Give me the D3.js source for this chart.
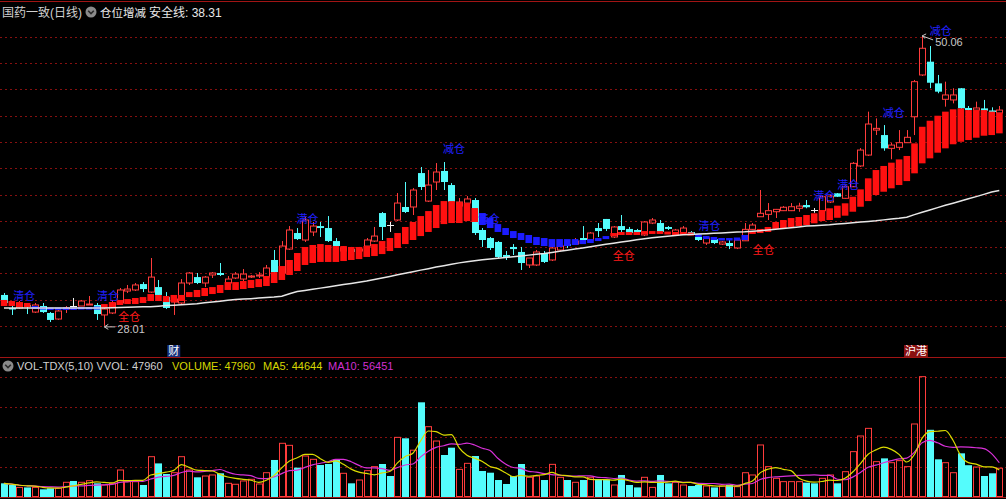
<!DOCTYPE html>
<html><head><meta charset="utf-8">
<script src="https://cdn.jsdelivr.net/npm/d3@7"></script>
<style>
html,body{margin:0;padding:0;background:#000;}
svg{display:block;}
text{font-family:"Liberation Sans","Noto Sans CJK SC",sans-serif;}
</style></head>
<body>
<svg id="c" width="1006" height="499"></svg>
<script>
// ---------- data ----------
const open = [30.36,29.37,29.37,29.60,29.06,29.52,28.99,28.53,29.29,29.52,
29.52,29.60,29.60,28.84,28.99,29.75,30.66,30.74,31.19,30.58,
30.96,30.20,29.82,29.75,31.27,31.72,31.27,31.88,32.03,31.27,
31.65,31.57,31.72,31.80,31.72,33.02,32.03,33.85,35.07,34.54,
35.15,35.60,35.45,34.46,33.70,33.85,33.70,34.08,34.46,36.59,
35.68,36.06,37.05,37.05,39.63,37.50,38.95,39.79,38.72,37.12,
37.35,37.58,35.30,34.69,34.39,33.40,34.01,33.63,32.64,32.64,
33.55,33.02,33.78,34.23,34.23,34.69,34.54,35.45,36.14,34.77,
35.60,35.38,35.30,34.92,35.83,35.83,35.53,34.92,35.07,35.15,
34.77,34.31,34.61,34.23,34.31,33.93,34.48,35.35,36.31,36.49,
36.69,36.77,36.77,36.95,37.20,36.82,36.77,37.43,38.09,37.71,
38.59,40.17,41.00,42.90,42.52,41.51,41.59,41.94,43.91,47.09,
48.10,46.45,45.24,45.19,46.08,44.58,44.42,44.55,44.39,44.20];
const close = [29.75,29.29,29.75,29.44,29.60,29.06,28.46,29.14,29.37,29.52,
29.90,29.67,28.91,29.29,29.75,30.74,30.81,31.12,30.81,31.72,
30.36,29.37,30.05,31.27,32.03,31.27,31.72,32.03,31.88,31.57,
31.95,31.95,31.80,31.88,32.41,32.10,34.08,35.30,34.61,36.06,
35.60,35.45,34.46,34.08,33.93,33.63,33.85,34.54,34.84,35.53,
35.68,37.35,36.67,38.34,38.57,38.72,39.71,38.95,37.43,37.43,
37.66,35.07,34.54,33.93,33.25,33.25,33.85,32.79,33.17,33.63,
32.87,33.93,34.08,34.08,34.46,34.54,35.07,35.22,35.38,35.53,
35.30,35.07,35.15,35.91,36.06,35.15,35.38,35.30,35.45,35.00,
34.54,34.69,34.31,34.39,34.08,34.54,35.35,35.68,36.57,36.77,
36.87,37.03,37.07,37.12,37.03,36.82,37.83,37.88,37.83,38.59,
40.37,41.38,43.36,43.03,41.51,41.76,41.94,42.35,46.58,49.12,
46.50,45.82,45.57,45.57,44.55,44.42,44.58,44.37,44.30,44.42];
const high = [30.51,29.60,29.90,29.75,29.75,29.75,29.06,29.22,29.52,30.13,
29.98,30.28,29.75,29.37,29.98,30.89,31.12,31.27,31.34,33.17,
31.50,30.58,30.20,31.57,32.10,32.03,31.80,32.10,32.79,31.80,
32.10,32.33,31.88,32.10,32.64,33.78,34.46,35.60,35.45,36.29,
35.91,35.91,36.36,34.69,34.08,34.01,34.01,34.69,35.53,36.67,
35.91,38.11,38.95,38.49,40.09,39.86,40.39,40.47,38.87,37.73,
37.88,37.73,35.45,34.77,34.46,33.70,34.23,34.01,33.17,33.78,
33.70,34.01,34.31,34.54,34.69,35.60,35.15,35.83,36.14,35.60,
36.44,35.53,35.38,35.98,36.21,36.06,35.60,35.38,35.60,35.22,
34.84,34.84,34.69,34.46,34.54,34.61,35.83,35.83,38.34,37.35,
36.90,37.12,37.35,37.37,37.58,36.97,37.88,38.04,38.11,38.72,
40.47,41.53,44.30,43.79,43.28,41.92,42.90,42.90,46.71,50.06,
49.29,47.09,46.58,46.08,46.10,44.73,45.06,45.19,44.63,44.73];
const low = [29.52,28.84,29.29,28.91,28.99,28.99,28.30,28.46,28.99,29.44,
29.52,29.60,28.46,28.01,28.91,29.60,30.51,30.66,30.58,30.51,
30.28,29.29,28.84,29.60,31.12,31.19,30.96,31.65,31.80,31.12,
31.57,31.42,31.65,31.65,31.65,32.03,31.95,33.78,34.54,34.39,
34.84,34.77,34.39,33.93,33.63,33.47,33.55,34.01,34.39,34.54,
35.15,35.98,36.59,36.44,38.34,37.43,38.34,38.34,37.35,36.97,
37.20,34.92,34.01,33.78,33.17,33.02,33.40,32.26,32.41,32.56,
32.79,32.94,33.70,33.93,34.16,34.31,34.46,34.77,35.22,34.69,
35.07,35.00,34.92,34.84,35.75,35.07,35.30,34.84,35.00,34.92,
34.46,34.16,34.23,34.16,33.85,33.85,34.46,35.30,36.29,36.06,
36.21,36.74,36.74,36.69,36.95,36.61,36.74,37.35,37.81,37.66,
38.57,40.09,40.93,42.52,41.33,40.68,41.38,41.92,42.52,47.01,
46.08,45.70,44.68,44.93,44.50,44.35,44.39,44.35,44.27,44.12];
const volume = [22800,20000,16000,16000,16000,12800,14500,14500,24500,26700,
24500,27200,22800,20000,22800,45000,25500,25500,20000,67200,
56000,38300,40500,67200,45000,32800,35000,36700,39500,22800,
21200,26700,29500,21700,40500,61700,89500,86100,48900,68300,
62800,53300,55000,61700,39500,22800,28300,43900,50600,55000,
35000,99400,97800,78000,157800,117200,93300,70000,82200,46100,
56100,68300,43300,40500,28300,21700,35000,55000,32800,35000,
28300,54400,32800,28300,24500,28300,32800,30000,29000,20000,
36700,20000,16000,32800,16000,36700,22800,24500,20000,18300,
20000,18300,16000,18300,20000,17200,40500,36700,86700,50600,
31100,25600,25600,25600,23900,22800,31100,36700,22800,42200,
75600,101700,114400,58900,64400,57200,60600,50600,121700,200600,
112000,62800,57200,40500,72800,53000,50000,35000,39500,47960];
// 仓位增减 band: upper and lower edge
const bandHi = [29.98,29.90,29.82,29.75,29.52,29.44,29.40,29.40,29.40,29.40,
29.44,29.44,29.48,29.67,29.82,29.98,30.05,30.13,30.20,30.43,
30.36,30.28,30.36,30.36,30.58,30.74,30.89,30.96,31.12,31.34,
31.34,31.42,31.50,31.57,31.80,32.10,32.56,33.02,33.55,34.01,
34.16,34.23,34.16,34.08,34.08,34.01,34.01,34.08,34.23,34.46,
34.69,35.07,35.53,35.91,36.36,36.74,37.20,37.50,37.50,37.43,
37.35,36.97,36.59,36.21,35.75,35.45,35.22,35.07,34.92,34.77,
34.69,34.61,34.61,34.61,34.61,34.54,34.61,34.69,34.84,35.07,
35.15,35.15,35.15,35.22,35.22,35.22,35.18,35.15,35.15,35.11,
35.00,34.84,34.77,34.69,34.69,34.73,34.92,35.22,35.38,35.53,
35.91,36.06,36.21,36.29,36.44,36.57,36.82,36.95,37.15,37.33,
37.83,38.39,39.23,39.86,40.17,40.42,40.67,40.93,41.89,43.15,
43.61,43.99,44.30,44.48,44.55,44.42,44.42,44.42,44.30,44.22];
const bandLo = [29.52,29.52,29.44,29.44,29.29,29.25,29.22,29.22,29.22,29.22,
29.25,29.25,29.25,29.37,29.44,29.60,29.67,29.67,29.75,29.90,
29.90,29.82,29.82,29.90,30.20,30.20,30.28,30.43,30.51,30.74,
30.74,30.81,30.89,30.96,31.04,31.27,31.50,31.88,32.18,32.64,
32.79,32.87,32.87,32.87,32.94,33.02,33.09,33.25,33.32,33.47,
33.70,33.93,34.23,34.54,34.84,35.15,35.45,35.75,35.83,35.83,
35.98,35.91,35.68,35.45,35.15,34.92,34.69,34.54,34.31,34.16,
34.08,34.01,34.01,34.08,34.16,34.23,34.31,34.46,34.61,34.84,
34.92,34.92,34.92,34.96,35.00,35.00,34.96,34.92,34.92,34.88,
34.77,34.61,34.54,34.50,34.50,34.50,34.54,35.00,35.07,35.15,
35.38,35.45,35.53,35.60,35.68,35.81,35.98,36.06,36.23,36.39,
36.69,37.07,37.50,37.96,38.21,38.47,38.72,39.02,39.61,40.37,
40.75,41.18,41.51,41.82,42.01,42.14,42.32,42.47,42.52,42.65];
// band colour runs: [count, 'r' rising / 'b' falling]
const bandRuns = [[4,'r'],[9,'b'],[49,'r'],[17,'b'],[11,'r'],[7,'b'],[33,'r']];
// 安全线
const safety = [29.37,29.37,29.37,29.37,29.37,29.37,29.37,29.37,29.37,29.37,
29.37,29.37,29.37,29.37,29.39,29.41,29.42,29.44,29.46,29.47,
29.51,29.55,29.58,29.62,29.66,29.70,29.76,29.83,29.89,29.96,
30.01,30.05,30.08,30.12,30.16,30.20,30.27,30.45,30.62,30.70,
30.79,30.88,30.97,31.06,31.15,31.23,31.32,31.42,31.54,31.65,
31.77,31.89,32.01,32.13,32.25,32.36,32.48,32.59,32.70,32.80,
32.88,32.96,33.04,33.10,33.15,33.21,33.27,33.33,33.39,33.45,
33.51,33.59,33.68,33.76,33.85,33.94,34.03,34.12,34.21,34.30,
34.39,34.47,34.55,34.64,34.71,34.77,34.83,34.88,34.93,34.96,
34.99,35.02,35.05,35.08,35.11,35.14,35.16,35.20,35.25,35.30,
35.35,35.41,35.47,35.53,35.60,35.63,35.67,35.70,35.75,35.80,
35.85,35.90,35.95,36.00,36.07,36.13,36.19,36.27,36.47,36.65,
36.82,37.00,37.18,37.34,37.51,37.67,37.84,38.01,38.19,38.31];
// signal labels: candle index (left edge), price level, text, kind
const sigIndex = [1.2, 12.05, 14.8, 37.9, 56.9, 61.4, 78.9, 90, 97, 104.9, 108, 113.9, 120];
const sigPrice = [30.28, 30.28, 28.66, 36.14, 41.46, 36.14, 33.32, 35.60, 33.78, 37.88, 38.72, 44.20, 50.45];
const sigText  = ["清仓","清仓","全仓","满仓","减仓","清仓","全仓","清仓","全仓","满仓","满仓","减仓","减仓"];
const sigKind  = ["b","b","r","b","b","b","r","b","r","b","b","b","b"];
const priceTicks = [28,30,32,34,36,38,40,42,44,46,48,50];
const volTicks = [50000,100000,150000,200000];
const lowMark = {i:13, v:28.01};
const highMark = {i:119, v:50.06};

// ---------- drawing ----------
const N = open.length;
const W = 1006;
const svg = d3.select("#c");
svg.append("rect").attr("width",W).attr("height",499).attr("fill","#000");

const x = d3.scaleLinear().domain([0, N-1]).range([4, 999.3]);
const yP = d3.scaleLinear().domain([28, 50]).range([326, 36.7]);
const yV = d3.scaleLinear().domain([0, 200000]).range([497, 377]);

const UP = "#ff3c3c", DOWN = "#54fcfc", GRID = "#861010";
const crisp = v => Math.round(v) + 0.5;

// grids
svg.append("g").selectAll("line").data(priceTicks).join("line")
  .attr("x1",0).attr("x2",W).attr("y1",d=>crisp(yP(d))).attr("y2",d=>crisp(yP(d)))
  .attr("stroke",GRID).attr("stroke-dasharray","2,3");
svg.append("g").selectAll("line").data(volTicks).join("line")
  .attr("x1",0).attr("x2",W).attr("y1",d=>crisp(yV(d))).attr("y2",d=>crisp(yV(d)))
  .attr("stroke",GRID).attr("stroke-dasharray","2,3");
// frame lines
[1.5, 357.5, 497.5].forEach(yy=>{
  svg.append("line").attr("x1",0).attr("x2",W).attr("y1",yy).attr("y2",yy)
    .attr("stroke","#a01414").attr("stroke-width",1);
});

// candles
const data = d3.range(N).map(i=>({i,o:open[i],c:close[i],h:high[i],l:low[i],v:volume[i]}));
const gC = svg.append("g");
data.forEach(d=>{
  const cx = Math.round(x(d.i));
  const yo = yP(d.o), yc = yP(d.c), yh = yP(d.h), yl = yP(d.l);
  const top = Math.min(yo,yc), bot = Math.max(yo,yc);
  if (d.c > d.o) {
    gC.append("line").attr("x1",cx+0.5).attr("x2",cx+0.5).attr("y1",yh).attr("y2",top).attr("stroke",UP);
    gC.append("line").attr("x1",cx+0.5).attr("x2",cx+0.5).attr("y1",bot).attr("y2",yl).attr("stroke",UP);
    gC.append("rect").attr("x",cx-2.5).attr("y",top).attr("width",6).attr("height",Math.max(1,bot-top))
      .attr("fill","none").attr("stroke",UP).attr("stroke-width",1);
  } else if (d.c < d.o) {
    gC.append("line").attr("x1",cx+0.5).attr("x2",cx+0.5).attr("y1",yh).attr("y2",yl).attr("stroke",DOWN);
    gC.append("rect").attr("x",cx-3).attr("y",top).attr("width",7).attr("height",Math.max(1.5,bot-top))
      .attr("fill",DOWN);
  } else {
    gC.append("line").attr("x1",cx+0.5).attr("x2",cx+0.5).attr("y1",yh).attr("y2",yl).attr("stroke","#f0f0f0");
    gC.append("line").attr("x1",cx-3).attr("x2",cx+4).attr("y1",crisp(yo)).attr("y2",crisp(yo)).attr("stroke","#f0f0f0");
  }
});

// band (drawn above candles)
const bandColor = [];
bandRuns.forEach(([n,c])=>{ for(let k=0;k<n;k++) bandColor.push(c); });
svg.append("g").selectAll("rect").data(d3.range(N)).join("rect")
  .attr("x",i=>x(i)-3.2).attr("width",6.6)
  .attr("y",i=>yP(bandHi[i])).attr("height",i=>Math.max(2,yP(bandLo[i])-yP(bandHi[i])))
  .attr("fill",i=>bandColor[i]==='r' ? "#ff1010" : "#1c1cff");

// safety line
svg.append("path").datum(safety)
  .attr("d", d3.line().x((d,i)=>x(i)).y(d=>yP(d)))
  .attr("fill","none").attr("stroke","#e6e6e6").attr("stroke-width",1.5);

// signal labels
svg.append("g").selectAll("text").data(d3.range(sigText.length)).join("text")
  .attr("x",k=>x(sigIndex[k])).attr("y",k=>yP(sigPrice[k]))
  .attr("dominant-baseline","central")
  .attr("font-family","Noto Sans CJK SC").attr("font-size",11)
  .attr("fill",k=>sigKind[k]==='r' ? "#ff1a1a" : "#2020ff")
  .text(k=>sigText[k]);

// low / high markers
{
  const lx = x(lowMark.i), ly = yP(lowMark.v) + 1;
  svg.append("path").attr("d",`M${lx},${ly} l4,-2.5 M${lx},${ly} l4,2.5 M${lx},${ly} L${lx+11},${ly}`)
    .attr("stroke","#c8c8c8").attr("fill","none");
  svg.append("text").attr("x",lx+13).attr("y",ly+2).attr("dominant-baseline","central")
    .attr("font-size",11).attr("fill","#c8c8c8").text(lowMark.v.toFixed(2));
  const hx = x(highMark.i), hy = yP(highMark.v);
  svg.append("path").attr("d",`M${hx},${hy} l4,-2 M${hx},${hy} l3,2.5 M${hx},${hy} L${hx+11},${hy+4}`)
    .attr("stroke","#c8c8c8").attr("fill","none");
  svg.append("text").attr("x",hx+13).attr("y",hy+6.5).attr("dominant-baseline","central")
    .attr("font-size",11).attr("fill","#c8c8c8").text(highMark.v.toFixed(2));
}

// event markers at bottom of price panel
function marker(i, txt, bg){
  const cx = x(i);
  const w = txt.length*11+2;
  svg.append("rect").attr("x",cx-w/2).attr("y",345).attr("width",w).attr("height",12).attr("fill",bg);
  svg.append("text").attr("x",cx).attr("y",351).attr("text-anchor","middle").attr("dominant-baseline","central")
    .attr("font-family","Noto Sans CJK SC").attr("font-size",11).attr("fill","#ffffff").text(txt);
}
marker(22, "财", "#14307a");
marker(118.2, "沪港", "#8a1010");

// volume bars
const gV = svg.append("g");
data.forEach(d=>{
  const cx = Math.round(x(d.i));
  const yt = yV(d.v);
  if (d.c > d.o) {
    gV.append("rect").attr("x",cx-2.5).attr("y",yt).attr("width",6).attr("height",496.5-yt)
      .attr("fill","none").attr("stroke",UP);
  } else {
    gV.append("rect").attr("x",cx-3).attr("y",yt).attr("width",7).attr("height",497-yt).attr("fill",DOWN);
  }
});
// volume moving averages
function ma(n){ return volume.map((v,i)=>d3.mean(volume.slice(Math.max(0,i-n+1), i+1))); }
const vline = d3.line().x((d,i)=>x(i)).y(d=>yV(d)).curve(d3.curveMonotoneX);
svg.append("path").datum(ma(10)).attr("d",vline).attr("fill","none").attr("stroke","#d830d8").attr("stroke-width",1.2);
svg.append("path").datum(ma(5)).attr("d",vline).attr("fill","none").attr("stroke","#dcdc00").attr("stroke-width",1.2);

// headers
function icon(cx, cy){
  svg.append("circle").attr("cx",cx).attr("cy",cy).attr("r",5.5).attr("fill","#8a8a8a");
  svg.append("path").attr("d",`M${cx-2.8},${cy-1.2} L${cx},${cy+1.6} L${cx+2.8},${cy-1.2}`)
    .attr("fill","none").attr("stroke","#2a2a2a").attr("stroke-width",1.6);
}
const hdr = svg.append("g").attr("font-size",12);
hdr.append("text").attr("x",2).attr("y",16.5).attr("fill","#d0d0d0").attr("font-family","Noto Sans CJK SC").text("国药一致(日线)");
icon(91, 12);
hdr.append("text").attr("x",100).attr("y",16.5).attr("fill","#e8e8e8").attr("font-family","Noto Sans CJK SC").attr("font-size",11.5).text("仓位增减");
hdr.append("text").attr("x",149).attr("y",16.5).attr("fill","#e8e8e8").text("安全线: 38.31");

icon(8, 366);
const vh = svg.append("g").attr("font-size",11);
vh.append("text").attr("x",17).attr("y",370).attr("fill","#d0d0d0").text("VOL-TDX(5,10) VVOL: 47960");
vh.append("text").attr("x",172).attr("y",370).attr("fill","#d6d600").text("VOLUME: 47960");
vh.append("text").attr("x",263).attr("y",370).attr("fill","#d6d600").text("MA5: 44644");
vh.append("text").attr("x",328).attr("y",370).attr("fill","#d030d0").text("MA10: 56451");
</script>
</body></html>
